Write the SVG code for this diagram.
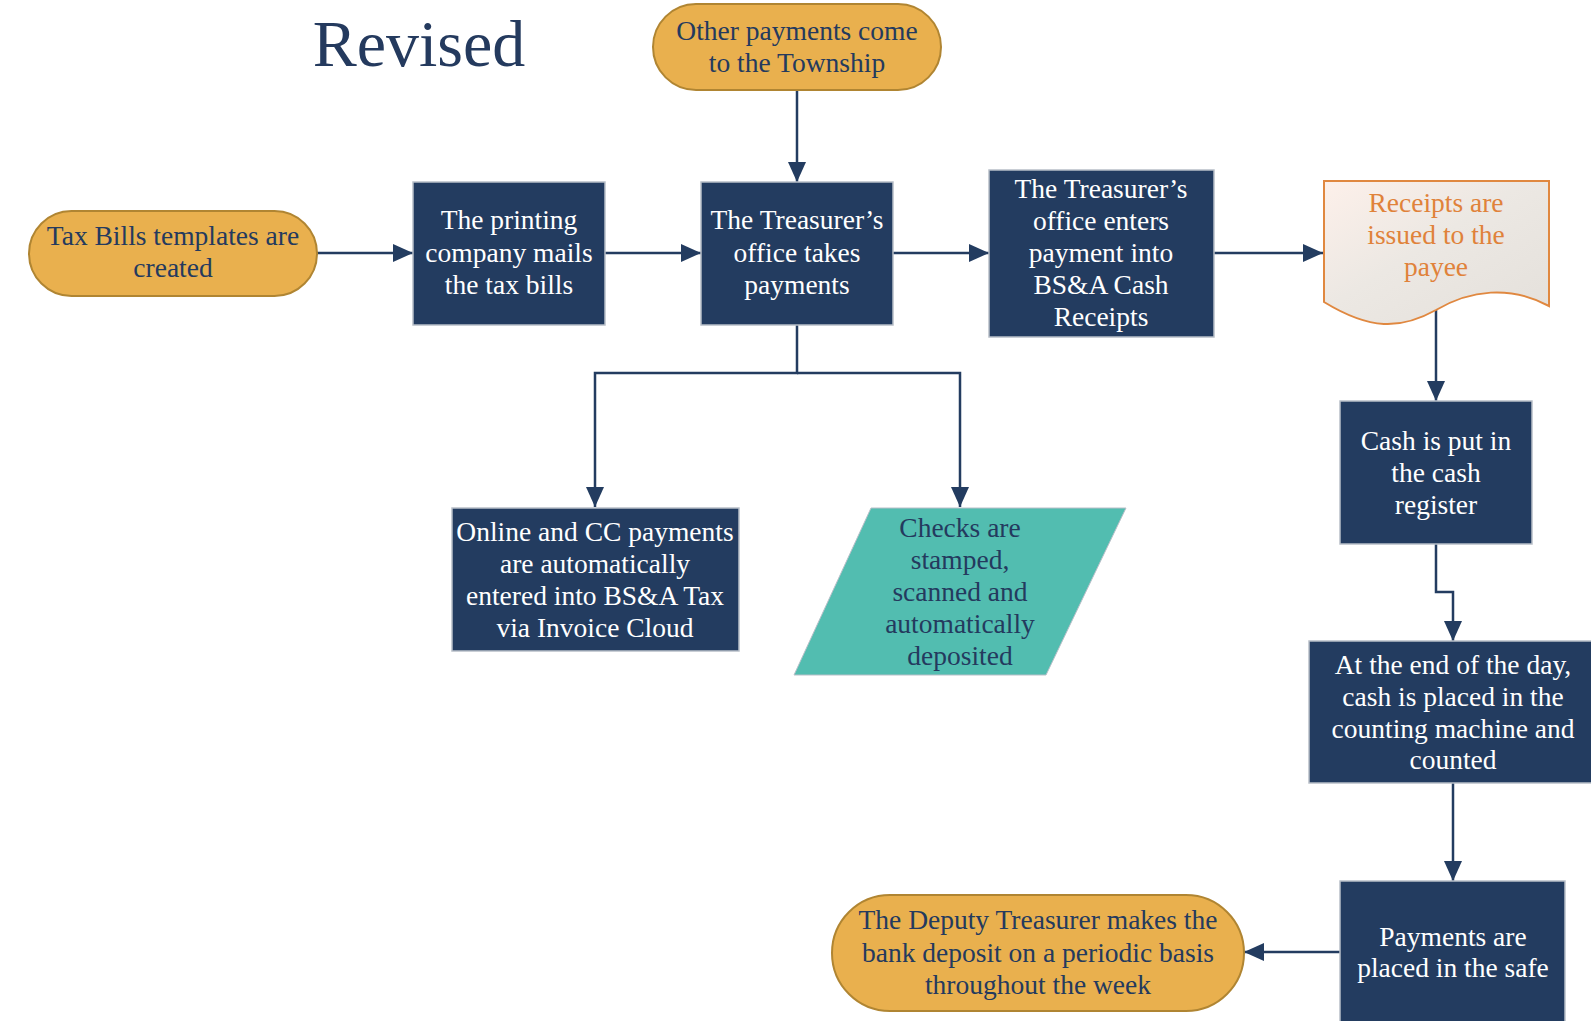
<svg xmlns="http://www.w3.org/2000/svg" width="1591" height="1021" viewBox="0 0 1591 1021">
<defs>
<style>
.box{fill:#233C60;stroke:#B8BFC8;stroke-width:1.5}
.term{fill:#E9B04E;stroke:#B08532;stroke-width:2}
.t{font-family:"Liberation Serif","DejaVu Serif",serif;font-size:27.5px;text-anchor:middle}
.w{fill:#FFFFFF}
.n{fill:#243A5E}
.o{fill:#E0823A}
.c{fill:none;stroke:#233C60;stroke-width:2.5}
</style>
<marker id="a" viewBox="0 0 20 20" refX="20" refY="10" markerWidth="20" markerHeight="20" markerUnits="userSpaceOnUse" orient="auto">
<path d="M0,1 L20,10 L0,19 z" fill="#233C60"/>
</marker>
<linearGradient id="doc" x1="0" y1="0" x2="1" y2="1">
<stop offset="0" stop-color="#FDF0EA"/>
<stop offset="0.45" stop-color="#ECE8E3"/>
<stop offset="1" stop-color="#E4E0DB"/>
</linearGradient>
</defs>
<rect width="1591" height="1021" fill="#FFFFFF"/>
<text x="419" y="66" font-family="Liberation Serif, DejaVu Serif, serif" font-size="66" text-anchor="middle" fill="#243A5E">Revised</text>

<g id="connectors">
<line class="c" x1="317" y1="253" x2="413" y2="253" marker-end="url(#a)"/>
<line class="c" x1="605" y1="253" x2="701" y2="253" marker-end="url(#a)"/>
<line class="c" x1="797" y1="90" x2="797" y2="182" marker-end="url(#a)"/>
<line class="c" x1="893" y1="253" x2="989" y2="253" marker-end="url(#a)"/>
<line class="c" x1="1214" y1="253" x2="1323" y2="253" marker-end="url(#a)"/>
<polyline class="c" points="797,325 797,373 595,373 595,507" marker-end="url(#a)"/>
<polyline class="c" points="797,373 960,373 960,507" marker-end="url(#a)"/>
<line class="c" x1="1436" y1="310" x2="1436" y2="401" marker-end="url(#a)"/>
<polyline class="c" points="1436,544 1436,592 1453,592 1453,641" marker-end="url(#a)"/>
<line class="c" x1="1453" y1="783" x2="1453" y2="881" marker-end="url(#a)"/>
<line class="c" x1="1340" y1="952" x2="1244" y2="952" marker-end="url(#a)"/>
</g>

<g id="other-payments">
<rect class="term" x="653" y="4" width="288" height="86" rx="43"/>
<text class="t n" x="797" y="40">Other payments come</text>
<text class="t n" x="797" y="72">to the Township</text>
</g>

<g id="tax-bills">
<rect class="term" x="29" y="211" width="288" height="85" rx="42.5"/>
<text class="t n" x="173" y="245">Tax Bills templates are</text>
<text class="t n" x="173" y="277">created</text>
</g>

<g id="printing">
<rect class="box" x="413" y="182" width="192" height="143"/>
<text class="t w" x="509" y="229">The printing</text>
<text class="t w" x="509" y="262">company mails</text>
<text class="t w" x="509" y="294">the tax bills</text>
</g>

<g id="takes-payments">
<rect class="box" x="701" y="182" width="192" height="143"/>
<text class="t w" x="797" y="229">The Treasurer’s</text>
<text class="t w" x="797" y="262">office takes</text>
<text class="t w" x="797" y="294">payments</text>
</g>

<g id="enters-payment">
<rect class="box" x="989" y="170" width="225" height="167"/>
<text class="t w" x="1101" y="198">The Treasurer’s</text>
<text class="t w" x="1101" y="230">office enters</text>
<text class="t w" x="1101" y="262">payment into</text>
<text class="t w" x="1101" y="294">BS&amp;A Cash</text>
<text class="t w" x="1101" y="326">Receipts</text>
</g>

<g id="receipts">
<path d="M1324,181 L1549,181 L1549,306 C1510,285 1470,290 1436,310 C1400,330 1370,330 1324,302 Z" fill="url(#doc)" stroke="#E08840" stroke-width="2"/>
<text class="t o" x="1436" y="212">Receipts are</text>
<text class="t o" x="1436" y="244">issued to the</text>
<text class="t o" x="1436" y="276">payee</text>
</g>

<g id="cash-register">
<rect class="box" x="1340" y="401" width="192" height="143"/>
<text class="t w" x="1436" y="450">Cash is put in</text>
<text class="t w" x="1436" y="482">the cash</text>
<text class="t w" x="1436" y="514">register</text>
</g>

<g id="end-of-day">
<rect class="box" x="1309" y="641" width="290" height="142"/>
<text class="t w" x="1453" y="674">At the end of the day,</text>
<text class="t w" x="1453" y="706">cash is placed in the</text>
<text class="t w" x="1453" y="738">counting machine and</text>
<text class="t w" x="1453" y="769">counted</text>
</g>

<g id="safe">
<rect class="box" x="1340" y="881" width="225" height="150"/>
<text class="t w" x="1453" y="946">Payments are</text>
<text class="t w" x="1453" y="977">placed in the safe</text>
</g>

<g id="deputy">
<rect class="term" x="832" y="895" width="412" height="116" rx="58"/>
<text class="t n" x="1038" y="929">The Deputy Treasurer makes the</text>
<text class="t n" x="1038" y="962">bank deposit on a periodic basis</text>
<text class="t n" x="1038" y="994">throughout the week</text>
</g>

<g id="online">
<rect class="box" x="452" y="508" width="287" height="143"/>
<text class="t w" x="595" y="541">Online and CC payments</text>
<text class="t w" x="595" y="573">are automatically</text>
<text class="t w" x="595" y="605">entered into BS&amp;A Tax</text>
<text class="t w" x="595" y="637">via Invoice Cloud</text>
</g>

<g id="checks">
<polygon points="871,508 1126,508 1046,675 794,675" fill="#52BDB0" stroke="#B8BFC8" stroke-width="1"/>
<text class="t n" x="960" y="537">Checks are</text>
<text class="t n" x="960" y="569">stamped,</text>
<text class="t n" x="960" y="601">scanned and</text>
<text class="t n" x="960" y="633">automatically</text>
<text class="t n" x="960" y="665">deposited</text>
</g>
</svg>
